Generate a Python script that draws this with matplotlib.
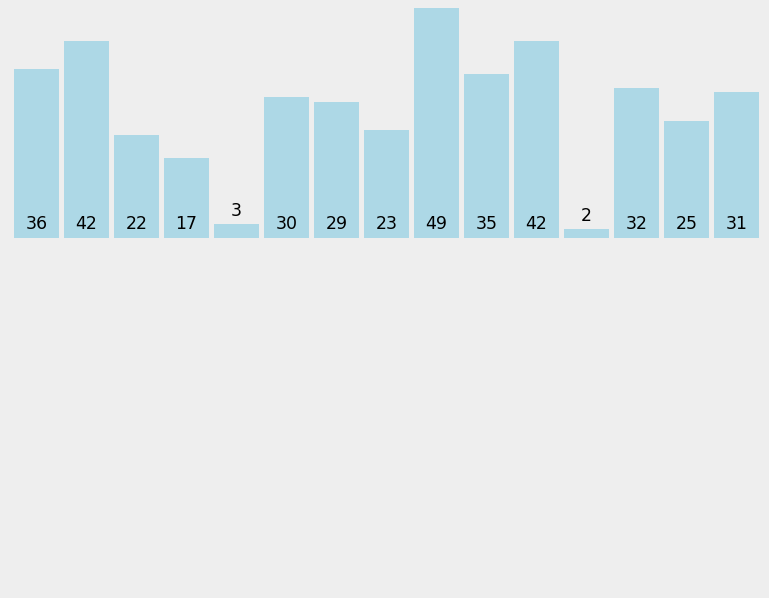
import matplotlib
matplotlib.use("Agg")
import matplotlib.pyplot as plt

values = [36, 42, 22, 17, 3, 30, 29, 23, 49, 35, 42, 2, 32, 25, 31]
labels = [str(v) for v in values]

W, H = 769, 598
fig = plt.figure(figsize=(W / 100, H / 100), dpi=100)
fig.patch.set_facecolor("#eeeeee")

left, right = 14, 764
top, base = 8, 238
ax = fig.add_axes([left / W, (H - base) / H, (right - left) / W, (base - top) / H])
ax.set_facecolor("#eeeeee")
ax.set_xlim(0, 750)
ax.set_ylim(0, 49)
ax.axis("off")

xs = [i * 50 for i in range(len(values))]
ax.bar(xs, values, width=45, align="edge", color="#add8e6", linewidth=0)

px_per_unit = (base - top) / 49
for x, v, lab in zip(xs, values, labels):
    if v * px_per_unit < 25:
        ax.annotate(lab, (x + 22.5, v), xytext=(0, 8), textcoords="offset pixels",
                    ha="center", va="baseline", fontsize=12.5, color="black",
                    family="DejaVu Sans")
    else:
        ax.annotate(lab, (x + 22.5, 0), xytext=(0, 9), textcoords="offset pixels",
                    ha="center", va="baseline", fontsize=12.5, color="black",
                    family="DejaVu Sans")

fig.savefig("out.png", dpi=100, facecolor=fig.get_facecolor())
